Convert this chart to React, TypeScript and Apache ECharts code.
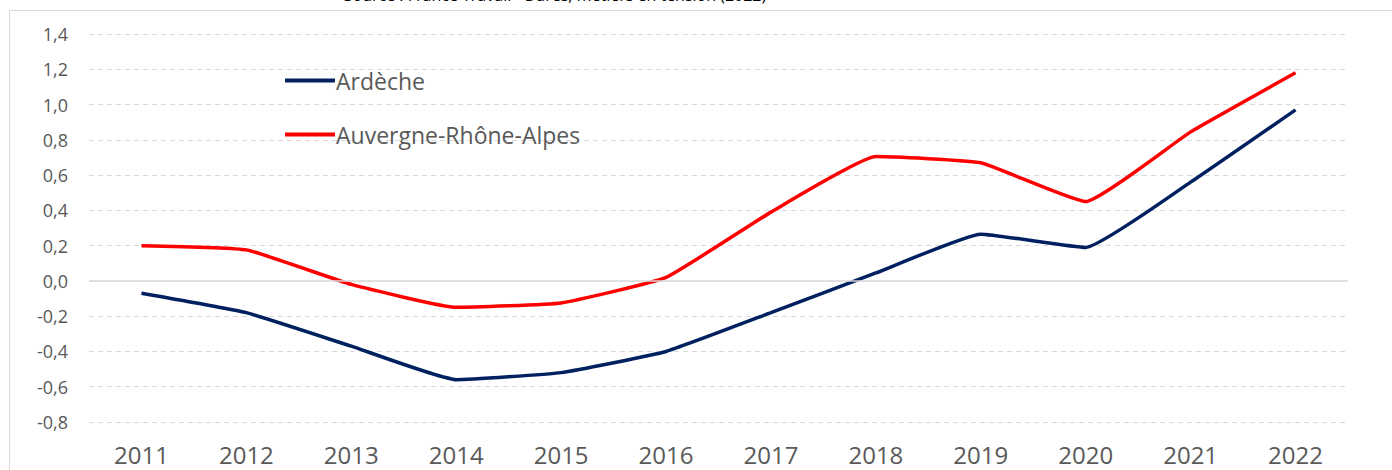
import React, { useEffect, useRef } from "react";
import * as echarts from "echarts";

const years = ["2011", "2012", "2013", "2014", "2015", "2016", "2017", "2018", "2019", "2020", "2021", "2022"];
const ardeche = [-0.07, -0.18, -0.37, -0.56, -0.52, -0.4, -0.18, 0.045, 0.265, 0.19, 0.56, 0.97];
const aura = [0.2, 0.176, -0.02, -0.15, -0.125, 0.02, 0.39, 0.705, 0.67, 0.45, 0.845, 1.18];
const sourceText = "Source : France Travail - Dares, métiers en tension (2022)";

const FONT = "'Open Sans', sans-serif";
const GREY = "#595959";

export default function App() {
  const ref = useRef<HTMLDivElement>(null);
  useEffect(() => {
    if (!ref.current) return;
    const chart = echarts.init(ref.current, null, { renderer: "svg" });
    chart.setOption({
      animation: false,
      backgroundColor: "#ffffff",
      textStyle: { fontFamily: FONT },
      graphic: [
        {
          type: "line",
          shape: { x1: 9.5, y1: 10.5, x2: 1392, y2: 10.5 },
          style: { stroke: "#d9d9d9", lineWidth: 1 },
          silent: true,
        },
        {
          type: "line",
          shape: { x1: 9.5, y1: 10.5, x2: 9.5, y2: 470 },
          style: { stroke: "#d9d9d9", lineWidth: 1 },
          silent: true,
        },
        {
          type: "text",
          x: 555,
          y: 3,
          style: {
            text: sourceText,
            fontFamily: FONT,
            fontSize: 16,
            fill: "#000000",
            textAlign: "center",
            textVerticalAlign: "bottom",
          },
          silent: true,
        },
      ],
      legend: {
        orient: "vertical",
        left: 280,
        top: 64,
        itemWidth: 50,
        itemHeight: 4,
        itemGap: 31,
        icon: "rect",
        textStyle: { fontFamily: FONT, fontSize: 23, color: GREY, padding: [0, 0, 0, -4] },
        data: ["Ardèche", "Auvergne-Rhône-Alpes"],
      },
      grid: { left: 89, right: 44, top: 34, bottom: 48, containLabel: false },
      xAxis: {
        type: "category",
        data: years,
        boundaryGap: true,
        axisLine: { show: false },
        axisTick: { show: false },
        axisLabel: { fontFamily: FONT, fontSize: 24, color: GREY, margin: 20 },
        splitLine: { show: false },
      },
      yAxis: {
        type: "value",
        min: -0.8,
        max: 1.4,
        interval: 0.2,
        axisLine: { show: false },
        axisTick: { show: false },
        axisLabel: {
          fontFamily: FONT,
          fontSize: 18,
          color: GREY,
          margin: 21,
          formatter: (v: number) => v.toFixed(1).replace(".", ","),
        },
        splitLine: { lineStyle: { color: "#d9d9d9", type: [5, 4], width: 1 } },
      },
      series: [
        {
          name: "Ardèche",
          type: "line",
          data: ardeche,
          smooth: 0.12,
          showSymbol: false,
          symbol: "none",
          lineStyle: { color: "#002060", width: 3.5 },
          itemStyle: { color: "#002060" },
          z: 3,
          markLine: {
            silent: true,
            symbol: "none",
            label: { show: false },
            lineStyle: { color: "#d9d9d9", type: "solid", width: 1.5 },
            data: [{ yAxis: 0 }],
          },
        },
        {
          name: "Auvergne-Rhône-Alpes",
          type: "line",
          data: aura,
          smooth: 0.12,
          showSymbol: false,
          symbol: "none",
          lineStyle: { color: "#ff0000", width: 3.5 },
          itemStyle: { color: "#ff0000" },
          z: 3,
        },
      ],
    });
    return () => chart.dispose();
  }, []);
  return (
    <div
      ref={ref}
      style={{ position: "absolute", left: 0, top: 0, width: 1392, height: 470 }}
    />
  );
}
